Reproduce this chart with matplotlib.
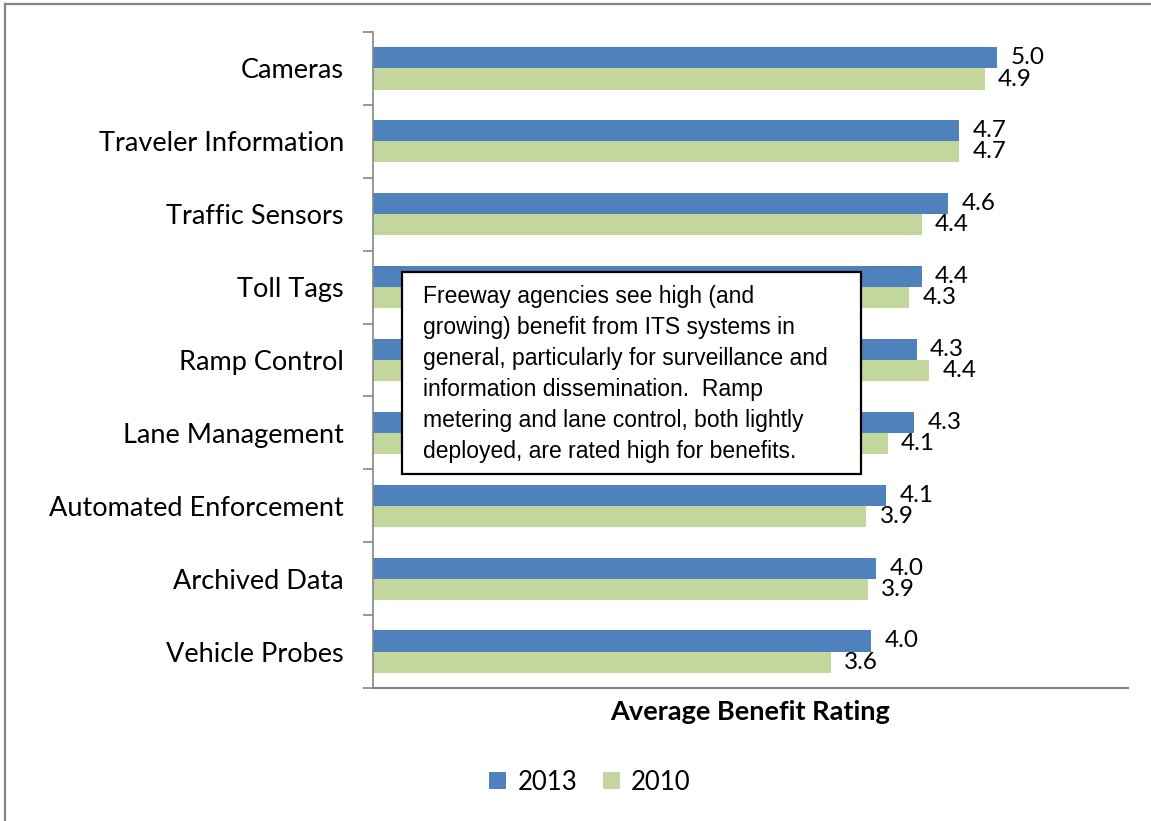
import matplotlib
matplotlib.use("Agg")
import matplotlib.pyplot as plt
from matplotlib.patches import Rectangle
from matplotlib.lines import Line2D
import numpy as np

categories = ["Cameras", "Traveler Information", "Traffic Sensors", "Toll Tags",
              "Ramp Control", "Lane Management", "Automated Enforcement",
              "Archived Data", "Vehicle Probes"]
rating_2013 = [4.96, 4.66, 4.57, 4.36, 4.32, 4.30, 4.08, 4.00, 3.96]
rating_2010 = [4.86, 4.66, 4.36, 4.26, 4.42, 4.09, 3.92, 3.93, 3.64]
series_names = ["2013", "2010"]

note = ("Freeway agencies see high (and\n"
        "growing) benefit from ITS systems in\n"
        "general, particularly for surveillance and\n"
        "information dissemination.  Ramp\n"
        "metering and lane control, both lightly\n"
        "deployed, are rated high for benefits.")

blue = "#4F81BD"
green = "#C3D69B"
grey = "#868686"
font = ["Lato", "DejaVu Sans"]
fs = 19.5

W, H = 1151, 821
fig = plt.figure(figsize=(W / 100, H / 100), dpi=100)
ax = fig.add_axes([373 / W, 1 - 688 / H, (1128 - 373) / W, (688 - 32) / H])

y = np.arange(len(categories))
bh = 0.29
ax.barh(y - bh / 2, rating_2013, height=bh, color=blue, label=series_names[0])
ax.barh(y + bh / 2, rating_2010, height=bh, color=green, label=series_names[1])

# value labels just right of each bar
for yi, v in zip(y, rating_2013):
    ax.annotate(f"{v:.1f}", (v, yi - bh / 2), xytext=(9.5, 0), textcoords="offset points",
                va="center", ha="left", fontsize=17.5, family=font)
for yi, v in zip(y, rating_2010):
    ax.annotate(f"{v:.1f}", (v, yi + bh / 2), xytext=(9.5, 0), textcoords="offset points",
                va="center", ha="left", fontsize=17.5, family=font)

ax.set_xlim(0, 6)
ax.set_ylim(len(categories) - 0.5, -0.5)
ax.set_yticks(y)
ax.set_yticklabels(categories, fontsize=fs, family=font)
ax.set_yticks(np.arange(len(categories) + 1) - 0.5, minor=True)
ax.tick_params(axis="y", which="major", length=0, pad=21)
ax.tick_params(axis="y", which="minor", length=7, width=1.2, color=grey, direction="out")
ax.set_xticks([])

for s in ["top", "right"]:
    ax.spines[s].set_visible(False)
ax.spines["left"].set_color(grey)
ax.spines["left"].set_linewidth(1.2)
ax.spines["bottom"].set_color(grey)
ax.spines["bottom"].set_linewidth(1.6)

fig.text(750 / W, 1 - 712 / H, "Average Benefit Rating", ha="center", va="center",
         fontsize=19.5, fontweight="bold", family=font)

leg = fig.legend(loc="center", bbox_to_anchor=(590 / W, 1 - 782 / H), ncol=2, frameon=False,
                 prop={"family": font, "size": 18.5}, handlelength=0.65, handleheight=0.65,
                 handletextpad=0.45, columnspacing=1.0)

# note box
fig.patches.append(Rectangle((402 / W, 1 - 474 / H), (861 - 402) / W, (474 - 272) / H,
                             transform=fig.transFigure, facecolor="white",
                             edgecolor="black", linewidth=1.6, zorder=5))
fig.text(423 / W, 1 - 285 / H, note, ha="left", va="top", fontsize=16.5,
         family="Liberation Sans", linespacing=1.44, zorder=6)

# outer chart border (partly cropped)
fig.add_artist(Line2D([5 / W, 1], [1 - 4 / H, 1 - 4 / H], transform=fig.transFigure,
                      color=grey, linewidth=1.6))
fig.add_artist(Line2D([5 / W, 5 / W], [0, 1 - 4 / H], transform=fig.transFigure,
                      color=grey, linewidth=1.6))

fig.savefig("out.png", dpi=100)
